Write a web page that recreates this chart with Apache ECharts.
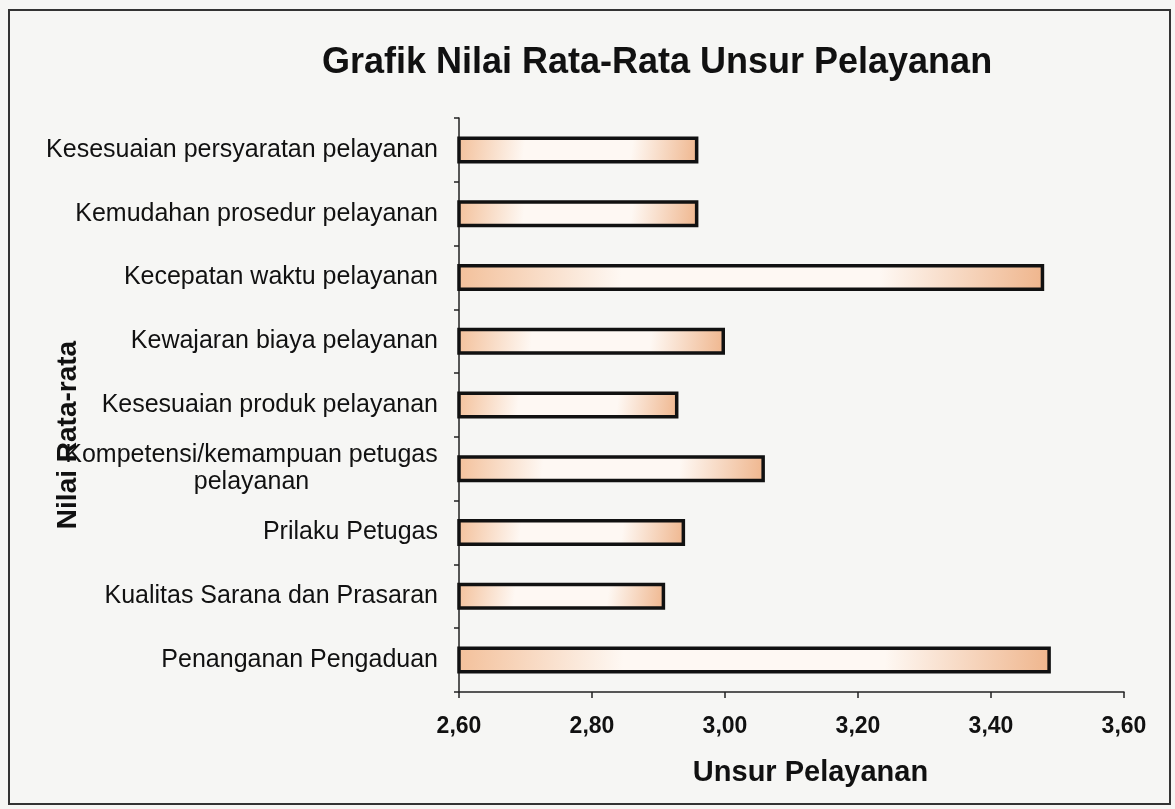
<!DOCTYPE html>
<html>
<head>
<meta charset="utf-8">
<script src="https://cdn.jsdelivr.net/npm/echarts@6/dist/echarts.min.js"></script>
<style>
html,body{margin:0;padding:0;background:#f6f6f4;}
#chart{width:1175px;height:809px;}
</style>
</head>
<body>
<div id="chart"></div>
<script>
// Data (top to bottom as in the picture)
const categories = [
  'Kesesuaian persyaratan pelayanan',
  'Kemudahan prosedur pelayanan',
  'Kecepatan waktu pelayanan',
  'Kewajaran biaya pelayanan',
  'Kesesuaian produk pelayanan',
  'Kompetensi/kemampuan petugas pelayanan',
  'Prilaku Petugas',
  'Kualitas Sarana dan Prasaran',
  'Penanganan Pengaduan'
];
const values = [2.96, 2.96, 3.48, 3.00, 2.93, 3.06, 2.94, 2.91, 3.49];
const xTicks = { min: 2.6, max: 3.6, interval: 0.2 };
const titleText = 'Grafik Nilai Rata-Rata Unsur Pelayanan';
const xName = 'Unsur Pelayanan';
const yName = 'Nilai Rata-rata';

const font = '"Liberation Sans", Arial, sans-serif';
const labelSize = 25;
const chart = echarts.init(document.getElementById('chart'));

// measure first line of the wrapped label so the second line centres under it
const cv = document.createElement('canvas').getContext('2d');
cv.font = labelSize + 'px ' + font;
const wrapFirst = 'Kompetensi/kemampuan petugas';
const wrapWidth = Math.ceil(cv.measureText(wrapFirst).width);

const barFill = new echarts.graphic.LinearGradient(0, 0, 1, 1, [
  { offset: 0, color: '#f3c09a' },
  { offset: 0.28, color: '#fef8f3' },
  { offset: 0.72, color: '#fef8f3' },
  { offset: 1, color: '#efb58c' }
]);

chart.setOption({
  backgroundColor: '#f6f6f4',
  animation: false,
  title: {
    text: titleText,
    left: 652, top: 40, textAlign: 'center',
    textStyle: { fontFamily: font, fontSize: 36, fontWeight: 'bold', color: '#111' }
  },
  graphic: [{
    type: 'rect', silent: true,
    shape: { x: 9, y: 10, width: 1161, height: 794 },
    style: { fill: 'none', stroke: '#333', lineWidth: 2 }
  }, {
    type: 'text', silent: true,
    x: 68, y: 435, rotation: Math.PI / 2,
    style: {
      text: yName, fontFamily: font, fontSize: 28, fontWeight: 'bold', fill: '#111',
      align: 'center', verticalAlign: 'middle'
    }
  }],
  grid: { left: 459, right: 51, top: 118, bottom: 117, containLabel: false },
  xAxis: {
    type: 'value',
    min: xTicks.min, max: xTicks.max, interval: xTicks.interval,
    name: xName, nameLocation: 'middle', nameGap: 66,
    nameTextStyle: { fontFamily: font, fontSize: 29, fontWeight: 'bold', color: '#111', padding: [0, 0, 0, 38] },
    axisLine: { show: true, lineStyle: { color: '#222', width: 1.5 } },
    axisTick: { show: true, inside: false, length: 6, lineStyle: { color: '#222', width: 1.5 } },
    splitLine: { show: false },
    axisLabel: {
      margin: 23,
      fontFamily: font, fontSize: 23, fontWeight: 'bold', color: '#111',
      formatter: v => v.toFixed(2).replace('.', ',')
    }
  },
  yAxis: {
    type: 'category', inverse: true, data: categories,
    axisLine: { show: true, lineStyle: { color: '#222', width: 1.5 } },
    axisTick: { show: true, inside: false, length: 5, lineStyle: { color: '#222', width: 1.5 } },
    splitLine: { show: false },
    axisLabel: {
      margin: 21,
      fontFamily: font, fontSize: labelSize, color: '#111',
      formatter: function (v) {
        if (v === 'Kompetensi/kemampuan petugas pelayanan') {
          return '{w|' + wrapFirst + '}\n{w|pelayanan}';
        }
        return v;
      },
      rich: {
        w: { width: wrapWidth, align: 'center', fontFamily: font, fontSize: labelSize, color: '#111', lineHeight: 27 }
      }
    }
  },
  series: [{
    type: 'bar',
    data: values,
    barWidth: 27,
    itemStyle: { color: barFill, borderColor: '#111', borderWidth: 3.5 }
  }]
});
</script>
</body>
</html>
